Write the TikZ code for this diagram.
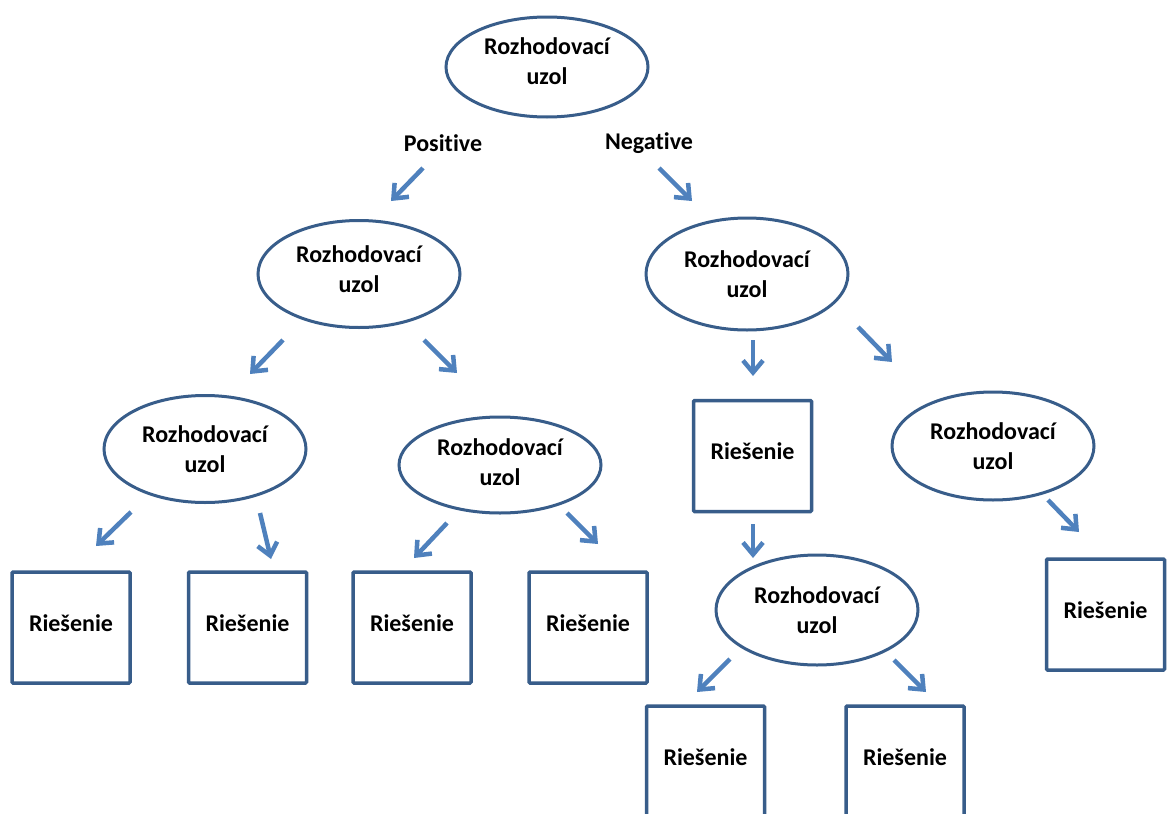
\documentclass[tikz,border=0pt]{standalone}
\usepackage{fontspec}
\setmainfont{Carlito}[Ligatures=NoCommon]
\usetikzlibrary{shapes.geometric,arrows.meta}
\definecolor{outline}{HTML}{385D8A}
\definecolor{arrowblue}{HTML}{4F81BD}
\begin{document}
\begin{tikzpicture}[x=1pt,y=-1pt,
  every node/.style={font=\fontsize{24}{30}\selectfont\bfseries},
  decision/.style={ellipse, draw=outline, line width=3pt, fill=white,
    minimum width=202pt, inner sep=0pt, align=center},
  leaf/.style={rectangle, draw=outline, line width=3.5pt, fill=white,
    minimum width=118pt, minimum height=111pt, inner sep=0pt,
    text depth=9pt, rounded corners=1pt},
  arr/.style={draw=arrowblue, line width=4.5pt,
    -{Straight Barb[length=12pt,width=20pt]}},
  tag/.style={inner sep=0pt}]
\useasboundingbox (0,0) rectangle (1168,814);
\clip (0,0) rectangle (1168,814);
\fill[white] (0,0) rectangle (1168,814);

% decision nodes
\node[decision, minimum height=100pt, text depth=11pt] (root) at (547,67) {Rozhodovací\\uzol};
\node[decision, minimum height=107pt, text depth=10pt] (pos)  at (359,274) {Rozhodovací\\uzol};
\node[decision, minimum height=112pt] (neg)  at (747,274) {Rozhodovací\\uzol};
\node[decision, minimum height=107pt] (pa)   at (205,449) {Rozhodovací\\uzol};
\node[decision, minimum height=96pt, text depth=6pt]  (pb)   at (500,465) {Rozhodovací\\uzol};
\node[decision, minimum height=108pt] (nb)   at (993,446) {Rozhodovací\\uzol};
\node[decision, minimum height=110pt] (nd)   at (817,610) {Rozhodovací\\uzol};

% leaves
\node[leaf] (l1) at (71,627.5)    {Riešenie};
\node[leaf] (l2) at (247.5,627.5) {Riešenie};
\node[leaf] (l3) at (412,627.5)   {Riešenie};
\node[leaf] (l4) at (588,627.5)   {Riešenie};
\node[leaf] (l5) at (752.5,456)   {Riešenie};
\node[leaf] (l6) at (1105.5,614.5){Riešenie};
\node[leaf] (l7) at (705.5,761.5) {Riešenie};
\node[leaf] (l8) at (905,761.5)   {Riešenie};

% branch labels
\node[tag] (ptag) at (443,143) {Positive};
\node[tag] (ntag) at (649,143) {Negative};

% arrow end points
\coordinate (a1s) at (423,168);  \coordinate (a1e) at (391,201);
\coordinate (a2s) at (659,168);  \coordinate (a2e) at (692,201);
\coordinate (a3s) at (283,340);  \coordinate (a3e) at (250,374);
\coordinate (a4s) at (424,340);  \coordinate (a4e) at (457,373);
\coordinate (a5s) at (753,340);  \coordinate (a5e) at (753,376);
\coordinate (a6s) at (858,327);  \coordinate (a6e) at (892,362);
\coordinate (a7s) at (131,512);  \coordinate (a7e) at (96,546);
\coordinate (a8s) at (260,513);  \coordinate (a8e) at (271,559);
\coordinate (a9s) at (447,523);  \coordinate (a9e) at (414,558);
\coordinate (a10s) at (567,513); \coordinate (a10e) at (598,544);
\coordinate (a11s) at (753,524); \coordinate (a11e) at (753,558);
\coordinate (a12s) at (1048,500);\coordinate (a12e) at (1079,532);
\coordinate (a13s) at (730,659); \coordinate (a13e) at (697,692);
\coordinate (a14s) at (894,660); \coordinate (a14e) at (926,692);

% arrows
\foreach \i in {1,...,14} {
  \draw[arr] (a\i s) -- (a\i e);
}
\end{tikzpicture}
\end{document}
